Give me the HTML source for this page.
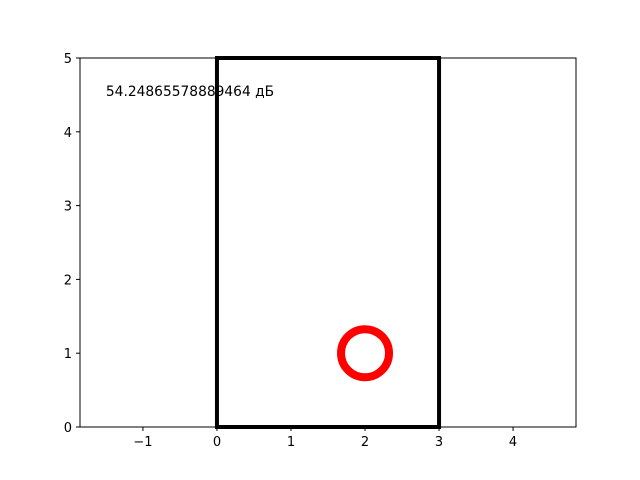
<!DOCTYPE html>
<html><head><meta charset="utf-8"><style>body{margin:0;background:#fff}svg{display:block}</style></head>
<body>
<svg width="640" height="480" xmlns="http://www.w3.org/2000/svg" font-family="'DejaVu Sans','Liberation Sans',sans-serif">
<g id="plot"></g>
</svg>
<script>
const xTicks=[-1,0,1,2,3,4];
const yTicks=[0,1,2,3,4,5];
const rectX=[0,3];
const rectY=[0,5];
const circleCenter=[2,1];
const annotation="54.24865578889464 дБ";
const annPos=[-1.5,4.5];
const X0=80,X1=576,Y0=427,Y1=58,xmin=-1.85,xmax=4.85,ymin=0,ymax=5;
function sx(v){return X0+(v-xmin)/(xmax-xmin)*(X1-X0);}
function sy(v){return Y0-(v-ymin)/(ymax-ymin)*(Y0-Y1);}
const ns="http://www.w3.org/2000/svg",g=document.getElementById('plot');
function mk(t,a){const e=document.createElementNS(ns,t);for(const k in a)e.setAttribute(k,a[k]);g.appendChild(e);return e;}
let fr=mk('rect',{x:X0,y:Y1,width:X1-X0,height:Y0-Y1,fill:'#fff',stroke:'#000','stroke-width':1});


xTicks.forEach(v=>{const x=sx(v);
let l=mk('line',{x1:x,x2:x,y1:Y0,y2:Y0+4,stroke:'#000'});


let t=mk('text',{x:x,y:Y0+19,'text-anchor':'middle','font-size':13});t.textContent=v<0?'\u2212'+Math.abs(v):v;

});
yTicks.forEach(v=>{const y=sy(v);
let l=mk('line',{x1:X0-4,x2:X0,y1:y,y2:y,stroke:'#000'});


let t=mk('text',{x:X0-8,y:y+5,'text-anchor':'end','font-size':13});t.textContent=v;

});
let r=mk('rect',{x:sx(rectX[0]),y:sy(rectY[1]),width:sx(rectX[1])-sx(rectX[0]),height:sy(rectY[0])-sy(rectY[1]),fill:'none',stroke:'#000','stroke-width':4});


let c=mk('circle',{cx:sx(circleCenter[0]),cy:sy(circleCenter[1]),r:24,fill:'none',stroke:'#ff0000','stroke-width':8});


let a=mk('text',{x:sx(annPos[0]),y:sy(annPos[1])+1,'font-size':13.8});a.textContent=annotation;


</script>
</body></html>
